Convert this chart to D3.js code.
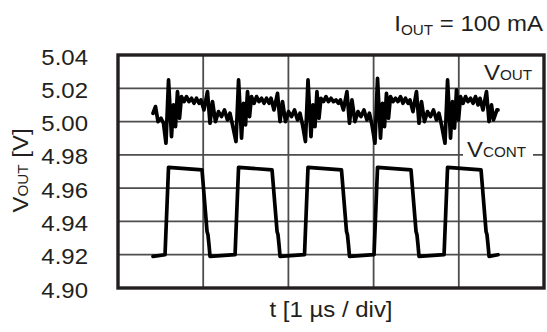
<!DOCTYPE html>
<html><head><meta charset="utf-8">
<script src="https://cdn.jsdelivr.net/npm/d3@7/dist/d3.min.js"></script>
<style>
body{margin:0;background:#fff}
svg{display:block}
text{font-family:"Liberation Sans",Arial,Helvetica,sans-serif;fill:#231f20}
</style>
</head><body>
<svg id="chart" width="547" height="332"></svg>
<script>
// ---- data ----
const yTicks = [4.90, 4.92, 4.94, 4.96, 4.98, 5.00, 5.02, 5.04];
const xGrid = [0, 1, 2, 3, 4, 5];            // time divisions [µs]
const xLabel = "t [1 µs / div]";
const condition = "= 100 mA";

// V_OUT ripple [time µs, volts]
const vout = [
  [0.411,5.005],[0.440,5.009],[0.470,5.000],[0.505,5.002],[0.534,4.999],
  // cycle 1
  [0.563,4.987],[0.593,5.025],[0.628,4.991],[0.651,5.010],[0.675,4.997],[0.698,5.018],[0.722,5.002],[0.745,5.015],
  [0.775,5.012],[0.804,5.015],[0.833,5.012],[0.863,5.014],[0.892,5.011],[0.921,5.014],[0.951,5.011],[0.974,5.013],
  [1.009,5.007],[1.050,5.018],[1.080,4.999],[1.109,5.012],[1.144,5.000],[1.180,5.006],[1.215,5.003],[1.250,5.007],
  [1.285,5.001],[1.314,5.005],[1.344,4.998],
  // cycle 2
  [1.385,4.988],[1.415,5.025],[1.450,4.990],[1.473,5.011],[1.497,4.998],[1.520,5.018],[1.544,5.003],[1.567,5.015],
  [1.597,5.011],[1.626,5.015],[1.655,5.012],[1.685,5.014],[1.714,5.011],[1.743,5.014],[1.773,5.011],[1.796,5.014],
  [1.831,5.007],[1.872,5.017],[1.902,5.000],[1.931,5.012],[1.966,5.000],[2.002,5.006],[2.037,5.003],[2.072,5.007],
  [2.107,5.001],[2.136,5.005],[2.166,4.998],
  // cycle 3
  [2.200,4.988],[2.230,5.025],[2.265,4.991],[2.288,5.010],[2.312,4.997],[2.335,5.018],[2.359,5.002],[2.382,5.014],
  [2.412,5.012],[2.441,5.015],[2.470,5.012],[2.500,5.014],[2.529,5.012],[2.558,5.013],[2.588,5.011],[2.611,5.013],
  [2.646,5.007],[2.687,5.018],[2.717,4.999],[2.746,5.013],[2.781,5.000],[2.817,5.006],[2.852,5.003],[2.887,5.007],
  [2.922,5.001],[2.951,5.005],[2.981,4.998],
  // cycle 4
  [3.016,4.987],[3.046,5.026],[3.081,4.990],[3.104,5.011],[3.128,4.997],[3.151,5.017],[3.175,5.002],[3.198,5.015],
  [3.228,5.012],[3.257,5.014],[3.286,5.012],[3.316,5.015],[3.345,5.011],[3.374,5.014],[3.404,5.011],[3.427,5.013],
  [3.462,5.006],[3.503,5.018],[3.533,4.999],[3.562,5.012],[3.597,5.000],[3.633,5.006],[3.668,5.003],[3.703,5.007],
  [3.738,5.001],[3.767,5.005],[3.797,4.998],
  // cycle 5
  [3.838,4.987],[3.868,5.025],[3.903,4.990],[3.926,5.012],[3.950,4.996],[3.973,5.019],[3.997,5.001],[4.020,5.015],
  [4.050,5.011],[4.079,5.015],[4.108,5.012],[4.138,5.014],[4.167,5.011],[4.196,5.015],[4.226,5.010],[4.249,5.014],
  [4.284,5.007],[4.325,5.018],[4.355,5.000],[4.384,5.010],[4.407,5.001],[4.448,5.007],[4.460,5.007]
];

// V_CONT square wave [time µs, volts on the same axis]
const vcont = [
  [0.411,4.919],[0.552,4.920],[0.593,4.9725],[0.986,4.971],[1.045,4.934],[1.056,4.932],[1.068,4.926],[1.080,4.919],
  [1.374,4.920],[1.415,4.9725],[1.808,4.971],[1.867,4.934],[1.878,4.932],[1.890,4.926],[1.902,4.919],
  [2.189,4.920],[2.230,4.9725],[2.623,4.971],[2.682,4.934],[2.693,4.932],[2.705,4.926],[2.717,4.919],
  [3.005,4.920],[3.046,4.9725],[3.439,4.971],[3.498,4.934],[3.509,4.932],[3.521,4.926],[3.533,4.919],
  [3.827,4.920],[3.868,4.9725],[4.261,4.971],[4.320,4.934],[4.331,4.932],[4.343,4.926],[4.355,4.919],[4.460,4.920]
];

// ---- drawing ----
const svg = d3.select("#chart");
const M = {l:118, r:544, t:55, b:288};
const x = d3.scaleLinear().domain([0,5]).range([M.l, M.r]);
const y = d3.scaleLinear().domain([4.90,5.04]).range([M.b, M.t]);
const ink = "#231f20";
const SX = 1.09;   // glyphs in the reference are slightly wide
const FS = 22, FSUB = 14;

// grid
svg.append("g").selectAll("line").data(xGrid.slice(1,-1)).join("line")
  .attr("x1", d=>x(d)).attr("x2", d=>x(d)).attr("y1", M.t).attr("y2", M.b)
  .attr("stroke", "#4d4d4d").attr("stroke-width", 1.8);
svg.append("g").selectAll("line").data(yTicks.slice(1,-1)).join("line")
  .attr("x1", M.l).attr("x2", M.r).attr("y1", d=>y(d)).attr("y2", d=>y(d))
  .attr("stroke", "#4d4d4d").attr("stroke-width", 1.8);

// y axis tick labels
const ax = svg.append("g").attr("transform", `translate(${M.l},2)`)
  .call(d3.axisLeft(y).tickValues(yTicks).tickFormat(d3.format(".2f")).tickSize(0).tickPadding(30));
ax.select(".domain").remove();
ax.selectAll("text").attr("font-size", FS).attr("font-family", null).attr("fill", ink)
  .attr("x", -30 / SX).attr("transform", `scale(${SX},1)`);

// gap in grid behind V_CONT label
svg.append("rect").attr("x", 463).attr("y", 142).attr("width", 70).attr("height", 17).attr("fill", "#fff");

// frame
svg.append("rect").attr("x", M.l).attr("y", M.t).attr("width", M.r-M.l).attr("height", M.b-M.t)
  .attr("fill", "none").attr("stroke", ink).attr("stroke-width", 3.4);

// traces
const line = d3.line().x(d=>x(d[0])).y(d=>y(d[1]));
[vcont, vout].forEach(s => {
  svg.append("path").datum(s).attr("d", line)
    .attr("fill", "none").attr("stroke", "#000").attr("stroke-width", 3.7)
    .attr("stroke-linejoin", "round").attr("stroke-linecap", "round");
});

// text helper with horizontal stretch
function stext(tx, ty, anchor, rot) {
  return svg.append("g").attr("transform", `translate(${tx},${ty}) rotate(${rot||0}) scale(${SX},1)`)
    .append("text").attr("text-anchor", anchor || "start");
}
function vlabel(sub, xx, yy) {
  const t = stext(xx, yy);
  t.append("tspan").attr("font-size", FS).text("V");
  t.append("tspan").attr("font-size", FSUB).text(sub);
}
vlabel("OUT", 484, 80);
vlabel("CONT", 467, 157);

// condition label
const c = stext(543, 31, "end");
c.append("tspan").attr("font-size", FS).text("I");
c.append("tspan").attr("font-size", FSUB).attr("dy", 4).text("OUT");
c.append("tspan").attr("font-size", FS).attr("dy", -4).text(" " + condition);

// axis titles
stext(x(2.5), 317, "middle").attr("font-size", FS).text(xLabel);
const yt = stext(28, (M.t+M.b)/2 - 1, "middle", -90);
yt.append("tspan").attr("font-size", FS).text("V");
yt.append("tspan").attr("font-size", FSUB).text("OUT");
yt.append("tspan").attr("font-size", FS).text(" [V]");
</script>
</body></html>
